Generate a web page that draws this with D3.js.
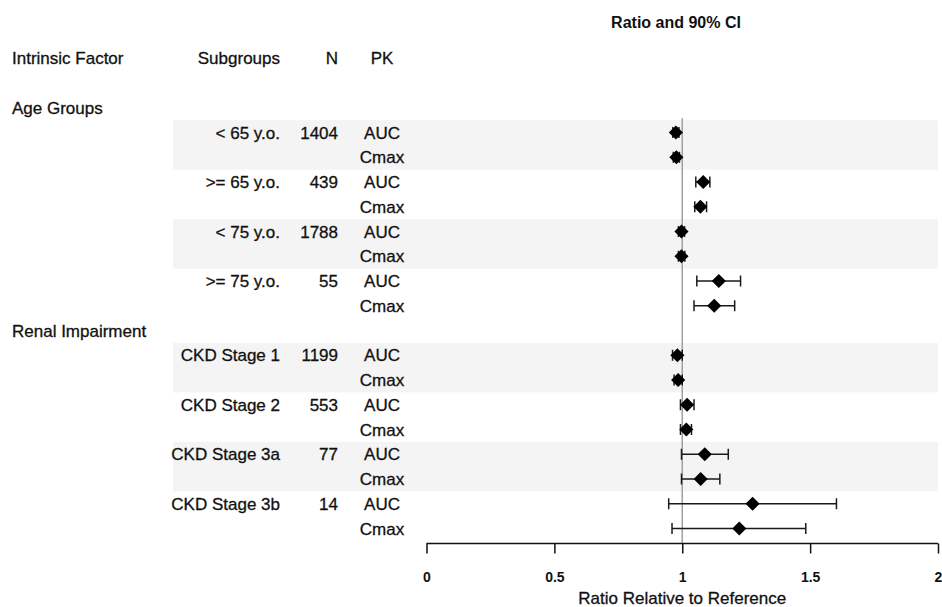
<!DOCTYPE html>
<html>
<head>
<meta charset="utf-8">
<script src="https://cdn.jsdelivr.net/npm/d3@7"></script>
<style>
  body { margin: 0; background: #fff; }
  svg { display: block; font-family: "Liberation Sans", Arial, sans-serif; }
</style>
</head>
<body>
<div id="chart"></div>
<script>
const factors = ['Age Groups', 'Renal Impairment'];
const subgroups = ['< 65 y.o.', '>= 65 y.o.', '< 75 y.o.', '>= 75 y.o.',
  'CKD Stage 1', 'CKD Stage 2', 'CKD Stage 3a', 'CKD Stage 3b'];
const subgroupFactor = [0, 0, 0, 0, 1, 1, 1, 1];
const counts = [1404, 439, 1788, 55, 1199, 553, 77, 14];
const pkParams = ['AUC', 'Cmax'];
// one value per subgroup x PK (AUC, Cmax)
const ratio = [0.975, 0.977, 1.082, 1.071, 0.997, 0.997, 1.143, 1.125,
  0.981, 0.984, 1.019, 1.016, 1.088, 1.072, 1.275, 1.223];
const lower = [0.963, 0.965, 1.053, 1.049, 0.985, 0.985, 1.057, 1.046,
  0.962, 0.968, 0.993, 0.993, 0.997, 0.997, 0.947, 0.960];
const upper = [0.987, 0.989, 1.108, 1.095, 1.009, 1.010, 1.228, 1.205,
  1.000, 1.000, 1.046, 1.036, 1.180, 1.147, 1.603, 1.483];
const xTicks = [0, 0.5, 1, 1.5, 2];

const width = 942;
const height = 607;
const font = 17;
const ink = '#111';

// lay out the rows: header, blank, then each factor followed by its subgroups
const rows = [];
rows.push({ type: 'header' });
rows.push({ type: 'blank' });
factors.forEach((f, fi) => {
  rows.push({ type: 'factor', label: f });
  subgroups.forEach((s, si) => {
    if (subgroupFactor[si] !== fi) return;
    pkParams.forEach((pk, pi) => {
      const k = si * 2 + pi;
      rows.push({ type: 'data', sub: si, pk, first: pi === 0, shade: si % 2 === 0,
        value: ratio[k], lo: lower[k], hi: upper[k] });
    });
  });
});

const svg = d3.select('#chart').append('svg')
  .attr('width', width).attr('height', height);

const y = d3.scaleBand().domain(d3.range(rows.length)).range([45.9, 45.9 + rows.length * 24.75]);
const x = d3.scaleLinear().domain([0, 2]).range([426.5, 938]);
const yc = i => y(i) + y.bandwidth() / 2;
const axisY = 543.5;

const colSub = 280, colN = 338, colPK = 382;

// shaded bands for alternating subgroups
const dataRows = rows.map((r, i) => ({ ...r, i })).filter(r => r.type === 'data');
svg.append('g').selectAll('rect')
  .data(dataRows.filter(r => r.shade && r.first))
  .join('rect')
  .attr('x', 173)
  .attr('y', d => y(d.i))
  .attr('width', 938 - 173)
  .attr('height', y.bandwidth() * 2)
  .attr('fill', '#f4f4f4');

// reference line at 1
const firstData = dataRows[0].i;
svg.append('line')
  .attr('x1', x(1)).attr('x2', x(1))
  .attr('y1', y(firstData) - 2).attr('y2', axisY)
  .attr('stroke', '#a0a0a0')
  .attr('stroke-width', 1.5);

// title
svg.append('text')
  .attr('x', 676).attr('y', 28)
  .attr('text-anchor', 'middle')
  .attr('font-size', 16).attr('font-weight', 'bold')
  .attr('fill', ink)
  .text('Ratio and 90% CI');

// header row
const hy = yc(0);
const header = svg.append('g').attr('font-size', font).attr('fill', ink)
  .attr('stroke', ink).attr('stroke-width', 0.3);
header.append('text').attr('x', 12).attr('y', hy).attr('dy', '0.36em').text('Intrinsic Factor');
header.append('text').attr('x', colSub).attr('y', hy).attr('dy', '0.36em').attr('text-anchor', 'end').text('Subgroups');
header.append('text').attr('x', colN).attr('y', hy).attr('dy', '0.36em').attr('text-anchor', 'end').text('N');
header.append('text').attr('x', colPK).attr('y', hy).attr('dy', '0.36em').attr('text-anchor', 'middle').text('PK');

// factor labels
const labels = svg.append('g').attr('font-size', font).attr('fill', ink)
  .attr('stroke', ink).attr('stroke-width', 0.3);
labels.selectAll('text.factor')
  .data(rows.map((r, i) => ({ ...r, i })).filter(r => r.type === 'factor'))
  .join('text')
  .attr('class', 'factor')
  .attr('x', 12).attr('y', d => yc(d.i)).attr('dy', '0.36em')
  .text(d => d.label);

// subgroup name + N on the AUC row
labels.selectAll('text.sub')
  .data(dataRows.filter(r => r.first))
  .join('text')
  .attr('class', 'sub')
  .attr('x', colSub).attr('y', d => yc(d.i)).attr('dy', '0.36em')
  .attr('text-anchor', 'end')
  .text(d => subgroups[d.sub]);

labels.selectAll('text.n')
  .data(dataRows.filter(r => r.first))
  .join('text')
  .attr('class', 'n')
  .attr('x', colN).attr('y', d => yc(d.i)).attr('dy', '0.36em')
  .attr('text-anchor', 'end')
  .text(d => counts[d.sub]);

labels.selectAll('text.pk')
  .data(dataRows)
  .join('text')
  .attr('class', 'pk')
  .attr('x', colPK).attr('y', d => yc(d.i)).attr('dy', '0.36em')
  .attr('text-anchor', 'middle')
  .text(d => d.pk);

// error bars
const bars = svg.append('g').attr('stroke', '#1a1a1a').attr('stroke-width', 1.5);
bars.selectAll('line.ci')
  .data(dataRows)
  .join('line')
  .attr('class', 'ci')
  .attr('x1', d => x(d.lo)).attr('x2', d => x(d.hi))
  .attr('y1', d => yc(d.i)).attr('y2', d => yc(d.i));
bars.selectAll('line.capL')
  .data(dataRows)
  .join('line')
  .attr('class', 'capL')
  .attr('x1', d => x(d.lo)).attr('x2', d => x(d.lo))
  .attr('y1', d => yc(d.i) - 5.5).attr('y2', d => yc(d.i) + 5.5);
bars.selectAll('line.capR')
  .data(dataRows)
  .join('line')
  .attr('class', 'capR')
  .attr('x1', d => x(d.hi)).attr('x2', d => x(d.hi))
  .attr('y1', d => yc(d.i) - 5.5).attr('y2', d => yc(d.i) + 5.5);

// diamonds
const diamond = d3.symbol().type(d3.symbolSquare).size(100);
svg.append('g').selectAll('path')
  .data(dataRows)
  .join('path')
  .attr('d', diamond)
  .attr('transform', d => `translate(${x(d.value)},${yc(d.i)}) rotate(45)`)
  .attr('fill', '#000');

// x axis
svg.append('g')
  .attr('transform', `translate(0,${axisY})`)
  .call(d3.axisBottom(x).tickValues(xTicks).tickSize(10).tickPadding(19).tickFormat(d3.format('')))
  .call(g => g.select('.domain').attr('d', `M${x(0)},0H${x(2)}`).attr('stroke', ink).attr('stroke-width', 1.5))
  .call(g => g.selectAll('.tick line').attr('stroke', ink).attr('stroke-width', 1.5))
  .call(g => g.selectAll('.tick text')
    .attr('font-size', 14).attr('font-weight', 'bold').attr('fill', ink)
    .attr('font-family', '"Liberation Sans", Arial, sans-serif'));

svg.append('text')
  .attr('x', x(1)).attr('y', 604)
  .attr('text-anchor', 'middle')
  .attr('font-size', font).attr('fill', ink)
  .attr('stroke', ink).attr('stroke-width', 0.3)
  .text('Ratio Relative to Reference');
</script>
</body>
</html>
